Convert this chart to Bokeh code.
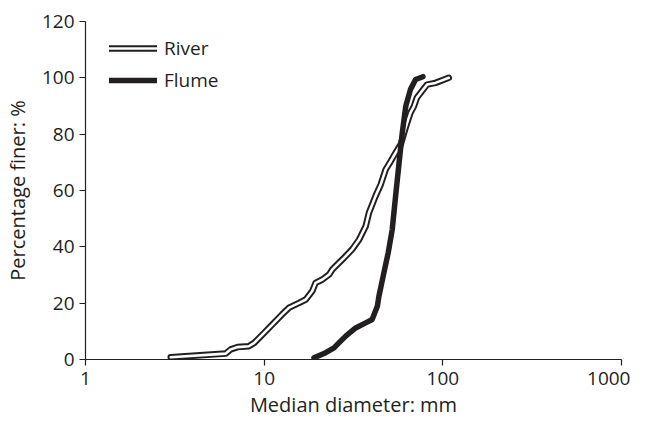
from bokeh.plotting import figure
from bokeh.models import Legend, LegendItem, FixedTicker, Range1d
from bokeh.embed import file_html
from bokeh.resources import INLINE

river_x = [3.0, 6.1, 6.5, 7.1, 8.2, 8.8, 9.8, 11.1, 12.6, 13.8, 15.7, 17.1, 18.6, 19.4, 21.2, 23.1, 24.1,
           26.2, 28.0, 31.1, 34.0, 37.0, 38.6, 42.0, 44.9, 47.9, 51.1, 54.4, 58.1, 60.7, 63.1, 65.9,
           68.9, 71.5, 76.5, 81.6, 91.0, 108.0]
river_y = [0.8, 2.1, 3.6, 4.4, 4.7, 5.9, 8.9, 12.4, 16.0, 18.4, 20.1, 21.3, 24.3, 27.2, 28.4, 30.2, 32.0,
           34.3, 36.1, 39.1, 42.6, 47.3, 52.1, 58.0, 62.1, 67.5, 70.4, 73.4, 76.3, 80.5, 84.0, 87.6,
           89.9, 92.9, 95.3, 97.6, 98.2, 100.0]

flume_x = [19.0, 22.1, 24.6, 26.2, 28.6, 32.5, 37.0, 40.2, 43.0, 43.9, 46.5, 49.5, 52.1, 54.4, 56.9,
           59.3, 62.0, 65.9, 70.4, 77.4]
flume_y = [0.6, 2.4, 4.1, 5.9, 8.3, 11.2, 13.0, 14.2, 18.9, 22.5, 30.0, 38.0, 46.2, 58.0, 69.8,
           80.5, 89.9, 95.9, 99.4, 100.4]

x_ticks = [1, 10, 100, 1000]
y_ticks = [0, 20, 40, 60, 80, 100, 120]

INK = "#231f20"
FONT = "Open Sans"
FS = "19px"
FT = "20px"

p = figure(width=630, height=421, x_axis_type="log", output_backend="svg",
           toolbar_location=None, x_range=Range1d(1, 1000), y_range=Range1d(0, 120),
           min_border_left=84, min_border_right=9, min_border_top=21, min_border_bottom=62)
p.outline_line_color = None
p.xgrid.visible = False
p.ygrid.visible = False

r_river_b = p.line(river_x, river_y, line_color=INK, line_width=6.5, line_cap="round", line_join="round")
r_river_w = p.line(river_x, river_y, line_color="white", line_width=2.6, line_cap="round", line_join="round")
r_flume = p.line(flume_x, flume_y, line_color=INK, line_width=5.5, line_cap="round", line_join="round")

p.xaxis.ticker = FixedTicker(ticks=x_ticks)
p.yaxis.ticker = FixedTicker(ticks=y_ticks)
p.xaxis.major_label_overrides = {1: "1", 10: "10", 100: "100", 1000: "1000"}
for ax in (p.xaxis, p.yaxis):
    ax.minor_tick_line_color = None
    ax.major_tick_in = 0
    ax.major_tick_out = 6
    ax.axis_line_color = INK
    ax.major_tick_line_color = INK
    ax.axis_line_width = 1.2
    ax.major_tick_line_width = 1.2
    ax.major_label_text_font = FONT
    ax.major_label_text_font_size = FS
    ax.major_label_text_color = INK
    ax.axis_label_text_font = FONT
    ax.axis_label_text_font_size = FT
    ax.axis_label_text_font_style = "normal"
    ax.axis_label_text_color = INK
p.xaxis.axis_label = "Median diameter: mm"
p.yaxis.axis_label = "Percentage finer: %"
p.xaxis.major_label_standoff = 6
p.xaxis.axis_label_standoff = 3
p.yaxis.major_label_standoff = 5
p.yaxis.axis_label_standoff = 8

legend = Legend(items=[LegendItem(label="River", renderers=[r_river_b, r_river_w]),
                       LegendItem(label="Flume", renderers=[r_flume])],
                location=(24, 266), border_line_color=None, background_fill_alpha=0,
                glyph_width=48, glyph_height=24, label_text_font=FONT, label_text_font_size=FS,
                label_text_color=INK, spacing=6, margin=0, padding=0, label_standoff=7,
                label_height=24)
p.add_layout(legend)

open("out.html", "w").write(file_html(p, INLINE))
